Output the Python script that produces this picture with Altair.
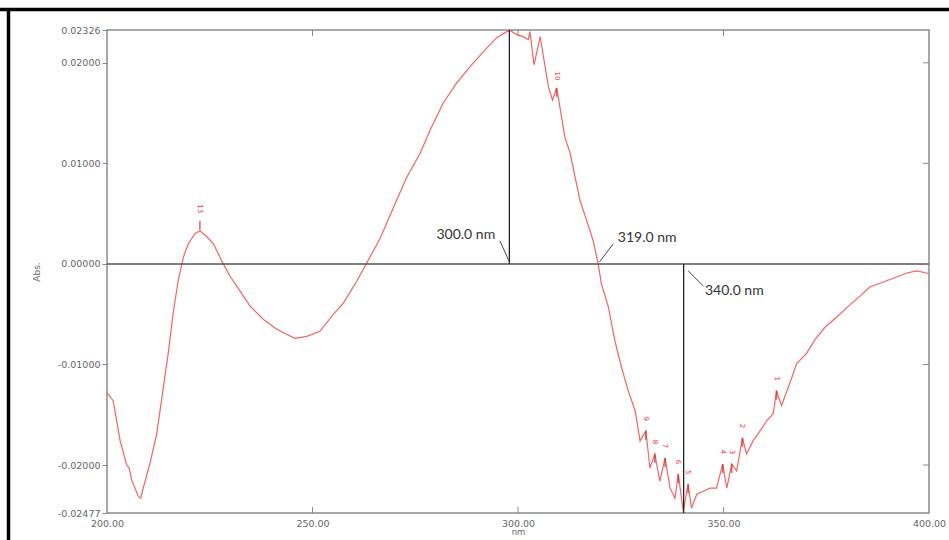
import altair as alt
import pandas as pd

# ---------------- data ----------------
wavelength = [200.0, 201.5, 203.2, 204.8, 205.4, 206.0, 207.6, 208.2, 208.8, 210.4,
              212.1, 213.7, 214.9, 216.1, 217.3, 218.6, 219.8, 221.4, 222.6, 224.3,
              225.9, 227.9, 229.9, 232.4, 234.8, 238.0, 241.3, 245.7, 248.6, 251.8,
              255.1, 257.5, 260.8, 263.2, 266.4, 269.7, 272.9, 276.2, 278.6, 281.8,
              285.1, 288.3, 291.6, 294.8, 297.3, 298.1, 299.7, 301.3, 302.5, 302.9,
              303.9, 305.4, 306.2, 307.4, 308.4, 309.4, 310.2, 311.4, 312.7, 313.9,
              315.1, 316.7, 318.3, 319.5, 320.3, 322.0, 323.6, 325.2, 326.8, 328.5,
              329.7, 331.1, 332.1, 333.3, 334.5, 335.8, 337.0, 338.2, 339.0, 340.2,
              341.4, 342.2, 343.5, 345.1, 346.7, 348.3, 349.8, 350.8, 352.0, 353.2,
              354.6, 355.6, 357.2, 358.9, 360.5, 362.1, 362.9, 364.1, 366.2, 367.8,
              370.2, 372.3, 374.7, 377.5, 380.4, 383.2, 385.6, 388.9, 392.1, 394.6,
              397.0, 399.4, 400.0]
absorbance = [-0.0128, -0.0136, -0.0176, -0.0200, -0.0203, -0.0215, -0.0231, -0.0233, -0.0223, -0.0199,
              -0.0169, -0.0123, -0.0089, -0.0049, -0.0017, 0.0007, 0.0020, 0.0030, 0.0033, 0.0027,
              0.0020, 0.0003, -0.0012, -0.0027, -0.0042, -0.0055, -0.0065, -0.0074, -0.0072, -0.0067,
              -0.0050, -0.0039, -0.0017, 0.0001, 0.0025, 0.0056, 0.0086, 0.0110, 0.0133, 0.0160,
              0.0180, 0.0196, 0.0211, 0.0225, 0.0231, 0.0232, 0.0228, 0.0226, 0.0223, 0.0231,
              0.0198, 0.0226, 0.0206, 0.0176, 0.0163, 0.0175, 0.0156, 0.0126, 0.0110, 0.0086,
              0.0063, 0.0043, 0.0023, 0.0000, -0.0020, -0.0043, -0.0077, -0.0103, -0.0126, -0.0146,
              -0.0176, -0.0166, -0.0203, -0.0189, -0.0216, -0.0193, -0.0223, -0.0233, -0.0209, -0.0246,
              -0.0219, -0.0243, -0.0229, -0.0226, -0.0223, -0.0223, -0.0199, -0.0223, -0.0199, -0.0206,
              -0.0173, -0.0189, -0.0176, -0.0166, -0.0156, -0.0149, -0.0126, -0.0141, -0.0118, -0.0099,
              -0.0089, -0.0075, -0.0063, -0.0053, -0.0042, -0.0032, -0.0023, -0.0018, -0.0013, -0.0009,
              -0.0007, -0.0009, -0.0010]

x_ticks = [200, 250, 300, 350, 400]
inner_x_ticks = [250, 300, 350]
y_ticks = [0.02326, 0.02, 0.01, 0.0, -0.01, -0.02, -0.02477]
inner_y_ticks = [0.02, 0.01, 0.0, -0.01, -0.02]
x_min, x_max = 200, 400
y_min, y_max = -0.02477, 0.02326

peak_nm = [222.6, 309.4, 331.1, 333.3, 335.8, 339.0, 341.4, 349.8, 352.0, 354.6, 362.9]
peak_abs = [0.0043, 0.0175, -0.0166, -0.0189, -0.0193, -0.0209, -0.0219, -0.0199, -0.0199, -0.0173, -0.0126]
peak_label = ["13", "10", "9", "8", "7", "6", "5", "4", "3", "2", "1"]

marker_nm = [297.9, 340.3]
marker_top = [0.02326, 0.0]
marker_bottom = [0.0, -0.02477]

ann_text = ["300.0 nm", "319.0 nm", "340.0 nm"]
ann_x = [287.3, 324.3, 345.5]
ann_y = [0.0029, 0.0026, -0.0027]
ann_align = ["center", "left", "left"]
lead_x1 = [295.6, 323.2, 341.4]
lead_y1 = [0.0023, 0.0020, -0.0007]
lead_x2 = [298.0, 319.8, 345.1]
lead_y2 = [0.0001, 0.0002, -0.0022]

# ---------------- tables ----------------
curve = pd.DataFrame({"nm": wavelength, "abs": absorbance})
peaks = pd.DataFrame({"nm": peak_nm, "abs": peak_abs, "lab": peak_label})
markers = pd.DataFrame({"nm": marker_nm, "top": marker_top, "bottom": marker_bottom})
ann = pd.DataFrame({"text": ann_text, "x": ann_x, "y": ann_y, "align": ann_align})
leaders = pd.DataFrame({"x1": lead_x1, "y1": lead_y1, "x2": lead_x2, "y2": lead_y2})
xt = pd.DataFrame({"nm": inner_x_ticks})
yt = pd.DataFrame({"abs": inner_y_ticks})
zero = pd.DataFrame({"x1": [x_min], "x2": [x_max], "y": [0.0]})

W, H = 822, 483
GRAY = "#666666"
FONT = "DejaVu Sans"

xscale = alt.Scale(domain=[x_min, x_max], nice=False, zero=False)
yscale = alt.Scale(domain=[y_min, y_max], nice=False, zero=False)

line = alt.Chart(curve).mark_line(color="#f26466", strokeWidth=1.2, clip=True).encode(
    x=alt.X("nm:Q", scale=xscale,
            axis=alt.Axis(values=x_ticks, format=".2f", ticks=False, domain=False, grid=False,
                          labelFlush=False, labelPadding=5, labelFont=FONT, labelFontSize=9.5,
                          labelColor=GRAY, title="nm", titleFont=FONT, titleFontSize=8.5,
                          titleFontWeight="normal", titleColor=GRAY, titlePadding=0)),
    y=alt.Y("abs:Q", scale=yscale,
            axis=alt.Axis(values=y_ticks, format=".5f",
                          labelExpr="replace(format(datum.value, '.5f'), '\u2212', '-')",
                          tickSize=5, tickColor="#888888",
                          domain=False, grid=False, labelPadding=2, labelFont=FONT,
                          labelFontSize=9.5, labelColor=GRAY, labelOverlap=False,
                          title="Abs.", titleFont=FONT, titleFontSize=9,
                          titleFontWeight="normal", titleColor=GRAY, titlePadding=16)),
)

zero_line = alt.Chart(zero).mark_rule(color="#555555", strokeWidth=1.5).encode(
    x="x1:Q", x2="x2:Q", y="y:Q")

marker_lines = alt.Chart(markers).mark_rule(color="#222222", strokeWidth=1.3).encode(
    x="nm:Q", y="top:Q", y2="bottom:Q")

leader_lines = alt.Chart(leaders).mark_rule(color="#444444", strokeWidth=1).encode(
    x="x1:Q", y="y1:Q", x2="x2:Q", y2="y2:Q")

ann_left = alt.Chart(ann[ann["align"] == "left"]).mark_text(
    font="Lato", fontSize=14, color="#333333", align="left", baseline="middle").encode(
    x="x:Q", y="y:Q", text="text:N")
ann_center = alt.Chart(ann[ann["align"] == "center"]).mark_text(
    font="Lato", fontSize=14, color="#333333", align="center", baseline="middle").encode(
    x="x:Q", y="y:Q", text="text:N")

peak_ticks = alt.Chart(peaks).mark_tick(orient="vertical", size=9, thickness=1.6,
                                        color="#d02a2a", yOffset=4.5).encode(
    x="nm:Q", y="abs:Q")
peak_text = alt.Chart(peaks).mark_text(fontSize=7, font=FONT, color="#e2383b", angle=90,
                                       yOffset=-12, align="center", baseline="middle").encode(
    x="nm:Q", y="abs:Q", text="lab:N")

bottom_ticks = alt.Chart(xt).mark_rule(color="#888888").encode(
    x="nm:Q", y=alt.value(H), y2=alt.value(H - 6))
top_ticks = alt.Chart(xt).mark_rule(color="#888888").encode(
    x="nm:Q", y=alt.value(0), y2=alt.value(6))
right_ticks = alt.Chart(yt).mark_rule(color="#888888").encode(
    y="abs:Q", x=alt.value(W), x2=alt.value(W - 6))

border_top = alt.Chart(zero).mark_rule(color="#000000", strokeWidth=3.5).encode(
    x=alt.value(-107), x2=alt.value(842), y=alt.value(-20.5))
border_left = alt.Chart(zero).mark_rule(color="#000000", strokeWidth=3.5).encode(
    x=alt.value(-98.5), y=alt.value(-22), y2=alt.value(510))

chart = alt.layer(
    line, zero_line, marker_lines, leader_lines, ann_left, ann_center,
    peak_ticks, peak_text, bottom_ticks, top_ticks, right_ticks, border_top, border_left,
).properties(
    width=W, height=H,
    autosize=alt.AutoSizeParams(type="none"),
    padding={"left": 107, "top": 30, "right": 20, "bottom": 27},
    background="white",
).configure_view(stroke="#8a8a8a", strokeWidth=1.5)

chart.save("out.html", embed_options={"renderer": "svg", "actions": False})
